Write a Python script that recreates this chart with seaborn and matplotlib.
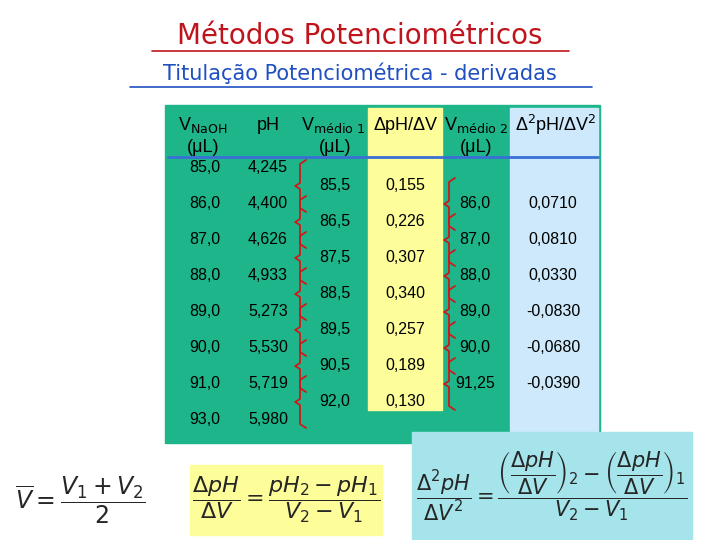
import matplotlib
matplotlib.use("Agg")
import matplotlib.pyplot as plt
import seaborn as sns
from matplotlib.patches import Rectangle

sns.set_theme(style="white")
plt.rcParams['font.family'] = ['Liberation Sans', 'DejaVu Sans']

v_naoh = ["85,0", "86,0", "87,0", "88,0", "89,0", "90,0", "91,0", "93,0"]
ph = ["4,245", "4,400", "4,626", "4,933", "5,273", "5,530", "5,719", "5,980"]
v_med1 = ["85,5", "86,5", "87,5", "88,5", "89,5", "90,5", "92,0"]
dph = ["0,155", "0,226", "0,307", "0,340", "0,257", "0,189", "0,130"]
v_med2 = ["86,0", "87,0", "88,0", "89,0", "90,0", "91,25"]
d2ph = ["0,0710", "0,0810", "0,0330", "-0,0830", "-0,0680", "-0,0390"]

fig = plt.figure(figsize=(7.2, 5.4), dpi=100)
ax = fig.add_axes([0, 0, 1, 1])
ax.set_xlim(0, 720); ax.set_ylim(540, 0); ax.axis("off")

green = "#1db589"
ax.add_patch(Rectangle((165, 105), 435, 338, color=green))
ax.add_patch(Rectangle((368, 108), 74, 302, color="#fdfd9a"))
ax.add_patch(Rectangle((510, 108), 88, 335, color="#cde9fb"))
ax.plot([168, 598], [157, 157], color="#3a6fd6", lw=2)

ax.text(360, 36, "Métodos Potenciométricos", color="#c0141c", fontsize=20,
        ha="center", va="center", family=["DejaVu Sans"])
ax.plot([152, 569], [51, 51], color="#c0141c", lw=1.2)
ax.text(360, 73, "Titulação Potenciométrica - derivadas", color="#1f4fc0", fontsize=15,
        ha="center", va="center", family=["DejaVu Sans"])
ax.plot([130, 592], [87, 87], color="#1f4fc0", lw=1.2)

hk = dict(fontsize=13, ha="center", va="center", color="black")
ax.text(203, 125, r"V$_{\mathrm{NaOH}}$", **hk); ax.text(203, 147, "(μL)", **hk)
ax.text(268, 125, "pH", **hk)
ax.text(333, 125, r"V$_{\mathrm{médio\ 1}}$", **hk); ax.text(335, 147, "(μL)", **hk)
ax.text(405, 125, "ΔpH/ΔV", **hk)
ax.text(476, 125, r"V$_{\mathrm{médio\ 2}}$", **hk); ax.text(476, 147, "(μL)", **hk)
ax.text(556, 125, r"Δ$^2$pH/ΔV$^2$", **hk)

dk = dict(fontsize=11.5, ha="center", va="center", color="black")
for i in range(len(v_naoh)):
    y = 168 + 36 * i
    ax.text(205, y, v_naoh[i], **dk); ax.text(268, y, ph[i], **dk)
for i in range(len(v_med1)):
    y = 186 + 36 * i
    ax.text(335, y, v_med1[i], **dk); ax.text(405, y, dph[i], **dk)
for i in range(len(v_med2)):
    y = 204 + 36 * i
    ax.text(475, y, v_med2[i], **dk); ax.text(553, y, d2ph[i], **dk)

def brace(x, y0, y1, left=True):
    m = (y0 + y1) / 2; d = -6 if left else 6
    ax.plot([x + d, x, x, x - d * 0.8, x, x, x + d],
            [y0, y0 + 4, m - 3, m, m + 3, y1 - 4, y1], color="#d01818", lw=1.3)
for i in range(7):
    brace(300, 168 + 36 * i - 8, 168 + 36 * (i + 1) + 8, left=False)
for i in range(6):
    brace(449, 186 + 36 * i - 8, 186 + 36 * (i + 1) + 8, left=False)

ax.text(80, 500, r"$\overline{V}=\dfrac{V_1+V_2}{2}$", fontsize=17, ha="center", va="center",
        family=["DejaVu Serif"])
ax.add_patch(Rectangle((190, 465), 192, 70, color="#fdfd9a"))
ax.text(286, 500, r"$\dfrac{\Delta pH}{\Delta V}=\dfrac{pH_2-pH_1}{V_2-V_1}$", fontsize=16,
        ha="center", va="center")
ax.add_patch(Rectangle((412, 432), 280, 108, color="#a4e4ea"))
ax.text(552, 486, r"$\dfrac{\Delta^2 pH}{\Delta V^2}=\dfrac{\left(\dfrac{\Delta pH}{\Delta V}\right)_2-\left(\dfrac{\Delta pH}{\Delta V}\right)_1}{V_2-V_1}$",
        fontsize=15, ha="center", va="center")

fig.savefig("out.png", dpi=100)
